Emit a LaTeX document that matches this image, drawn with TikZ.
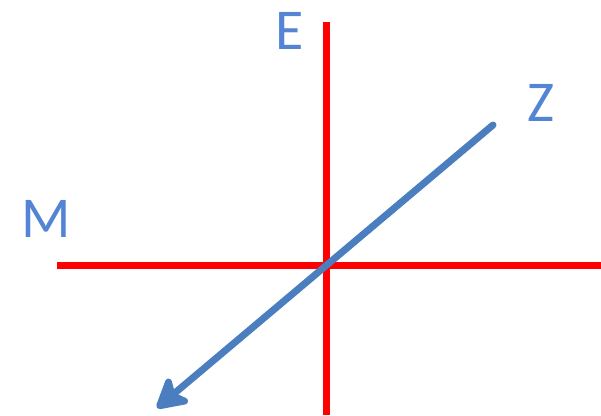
\documentclass[tikz,border=0pt]{standalone}
\usepackage{fontspec}
\setmainfont{Carlito}
\usetikzlibrary{arrows.meta}
\definecolor{axisred}{RGB}{255,0,0}
\definecolor{zblue}{RGB}{74,126,190}
\definecolor{labelblue}{RGB}{84,132,212}
\tikzset{
  axisline/.style={axisred, line width=7bp},
  zarrow/.style={zblue, line width=7bp, line cap=round, -{Stealth[length=36bp, width=40bp, inset=9bp, round]}},
  axislabel/.style={text=labelblue, font=\fontsize{58}{58}\selectfont, inner sep=0pt}
}

\begin{document}
\begin{tikzpicture}[x=1bp, y=-1bp]
  \useasboundingbox (0,0) rectangle (601,415);
  % axes
  \coordinate (etop) at (326,22);
  \coordinate (ebot) at (326,415);
  \coordinate (mleft) at (57,265);
  \coordinate (mright) at (601,265);
  \coordinate (zstart) at (493,125);
  \coordinate (zend) at (157,408);
  \draw[axisline] (etop) -- (ebot);
  \draw[axisline] (mleft) -- (mright);
  \draw[zarrow] (zstart) -- (zend);
  % labels
  \node[axislabel] (E) at (290,31) {E};
  \node[axislabel] (Z) at (541,103) {Z};
  \node[axislabel] (M) at (46,219) {M};
\end{tikzpicture}
\end{document}
